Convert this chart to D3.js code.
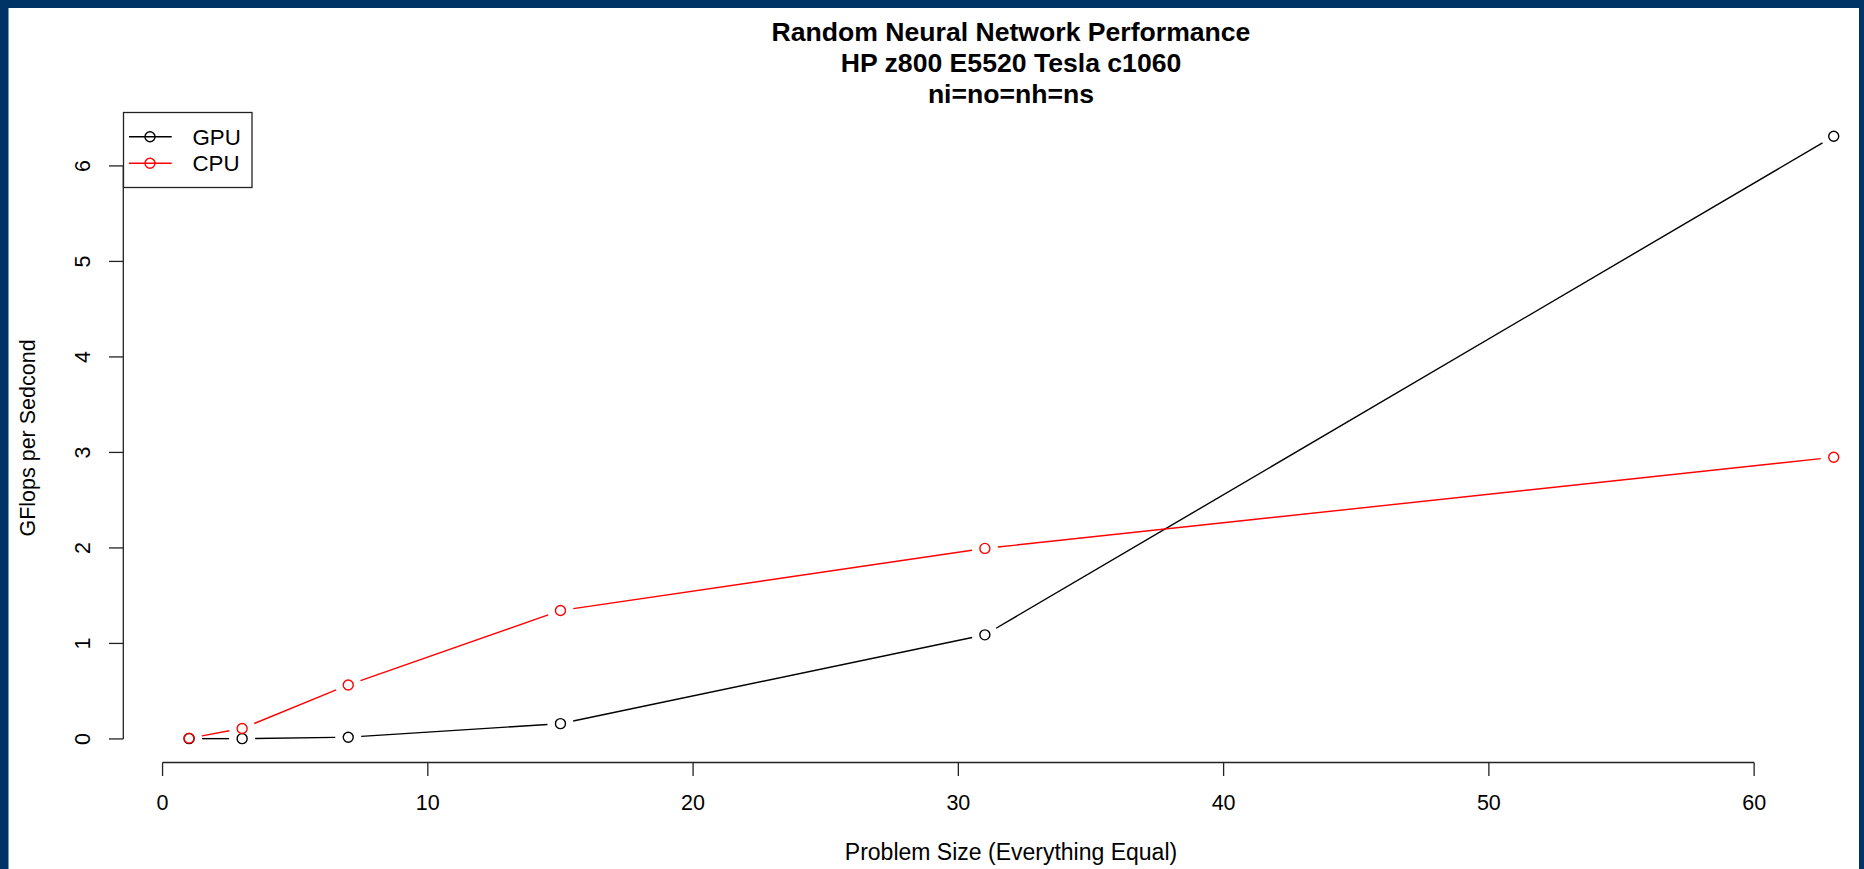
<!DOCTYPE html>
<html><head><meta charset="utf-8">
<script src="https://cdn.jsdelivr.net/npm/d3@7"></script>
<style>
html,body{margin:0;padding:0;background:#fff;}
svg{display:block;}
text{font-family:"Liberation Sans",Arial,Helvetica,sans-serif;fill:#000;}
</style></head>
<body>
<svg id="chart" width="1864" height="869"></svg>
<script>
// ---- data ----
const problemSize = [1, 3, 7, 15, 31, 63];
const gpuGflops  = [0.003, 0.003, 0.018, 0.160, 1.090, 6.310];
const cpuGflops  = [0.008, 0.110, 0.565, 1.345, 1.995, 2.950];
const seriesNames = ["GPU", "CPU"];
const seriesColors = ["#000000", "#ff0000"];
const xTicks = [0, 10, 20, 30, 40, 50, 60];
const yTicks = [0, 1, 2, 3, 4, 5, 6];
const titleLines = ["Random Neural Network Performance", "HP z800 E5520 Tesla c1060", "ni=no=nh=ns"];
const xLabel = "Problem Size (Everything Equal)";
const yLabel = "GFlops per Sedcond";

const svg = d3.select("#chart");
const W = 1864, H = 869;
const baseFont = 21.5, titleFont = 26.6, xLabFont = 23, legFont = 22.3;

// R-like plot region (extends past image right edge, as in reference crop)
const x = d3.scaleLinear().domain([-1.48, 65.48]).range([123.3, 1899.5]);
const y = d3.scaleLinear().domain([-0.252, 6.552]).range([763, 113.2]);

svg.append("rect").attr("width", W).attr("height", H).attr("fill", "#fff");

const axisColor = "#222";
// x axis
const xa = svg.append("g");
xa.append("line").attr("x1", x(0)).attr("x2", x(60)).attr("y1", 762.5).attr("y2", 762.5)
  .attr("stroke", axisColor).attr("stroke-width", 1.3);
xa.selectAll("line.t").data(xTicks).join("line").attr("class","t")
  .attr("x1", d => x(d)).attr("x2", d => x(d)).attr("y1", 762.5).attr("y2", 776)
  .attr("stroke", axisColor).attr("stroke-width", 1.3);
xa.selectAll("text").data(xTicks).join("text")
  .attr("x", d => x(d)).attr("y", 809.5).attr("text-anchor", "middle")
  .attr("font-size", baseFont).text(d => d);

// y axis
const ya = svg.append("g");
ya.append("line").attr("x1", 123.3).attr("x2", 123.3).attr("y1", y(0)).attr("y2", y(6))
  .attr("stroke", axisColor).attr("stroke-width", 1.3);
ya.selectAll("line.t").data(yTicks).join("line").attr("class","t")
  .attr("x1", 109).attr("x2", 123.3).attr("y1", d => y(d)).attr("y2", d => y(d))
  .attr("stroke", axisColor).attr("stroke-width", 1.3);
ya.selectAll("text").data(yTicks).join("text")
  .attr("transform", d => `translate(90,${y(d)}) rotate(-90)`)
  .attr("text-anchor", "middle").attr("font-size", baseFont).text(d => d);

// titles
svg.selectAll("text.title").data(titleLines).join("text").attr("class","title")
  .attr("x", 1011).attr("y", (d,i) => 40.5 + i*31).attr("text-anchor","middle")
  .attr("font-size", titleFont).attr("font-weight","bold").text(d => d);

svg.append("text").attr("x", 1011).attr("y", 859.5).attr("text-anchor","middle")
  .attr("font-size", xLabFont).text(xLabel);
svg.append("text").attr("transform", "translate(35,438) rotate(-90)")
  .attr("text-anchor","middle").attr("font-size", baseFont).text(yLabel);

// series with R type="b" gaps
const gap = 13, r = 5;
function drawSeries(vals, color) {
  const pts = problemSize.map((d,i) => [x(d), y(vals[i])]);
  const segs = [];
  for (let i = 0; i < pts.length-1; i++) {
    const [x0,y0] = pts[i], [x1,y1] = pts[i+1];
    const dx = x1-x0, dy = y1-y0, L = Math.hypot(dx,dy);
    if (L > 2*gap) {
      const ux = dx/L, uy = dy/L;
      segs.push([x0+ux*gap, y0+uy*gap, x1-ux*gap, y1-uy*gap]);
    }
  }
  const g = svg.append("g");
  g.selectAll("line").data(segs).join("line")
    .attr("x1", d=>d[0]).attr("y1", d=>d[1]).attr("x2", d=>d[2]).attr("y2", d=>d[3])
    .attr("stroke", color).attr("stroke-width", 1.4);
  g.selectAll("circle").data(pts).join("circle")
    .attr("cx", d=>d[0]).attr("cy", d=>d[1]).attr("r", r)
    .attr("fill","none").attr("stroke", color).attr("stroke-width", 1.4);
}
drawSeries(gpuGflops, seriesColors[0]);
drawSeries(cpuGflops, seriesColors[1]);

// legend
const lg = svg.append("g");
lg.append("rect").attr("x", 123.5).attr("y", 112.5).attr("width", 128.5).attr("height", 75)
  .attr("fill","#fff").attr("stroke","#222").attr("stroke-width",1.3);
seriesNames.forEach((nm,i) => {
  const cy = 136.7 + i*26.6;
  lg.append("line").attr("x1",129).attr("x2",171.7).attr("y1",cy).attr("y2",cy)
    .attr("stroke", seriesColors[i]).attr("stroke-width",1.4);
  lg.append("circle").attr("cx",150).attr("cy",cy).attr("r",r)
    .attr("fill","none").attr("stroke", seriesColors[i]).attr("stroke-width",1.4);
  lg.append("text").attr("x",192.5).attr("y",cy+8).attr("font-size",legFont).text(nm);
});

// navy frame
const frame = "#003366";
svg.append("rect").attr("x",0).attr("y",0).attr("width",W).attr("height",8).attr("fill",frame);
svg.append("rect").attr("x",0).attr("y",0).attr("width",8.5).attr("height",H).attr("fill",frame);
svg.append("rect").attr("x",1859).attr("y",0).attr("width",5).attr("height",H).attr("fill",frame);
</script>
</body></html>
